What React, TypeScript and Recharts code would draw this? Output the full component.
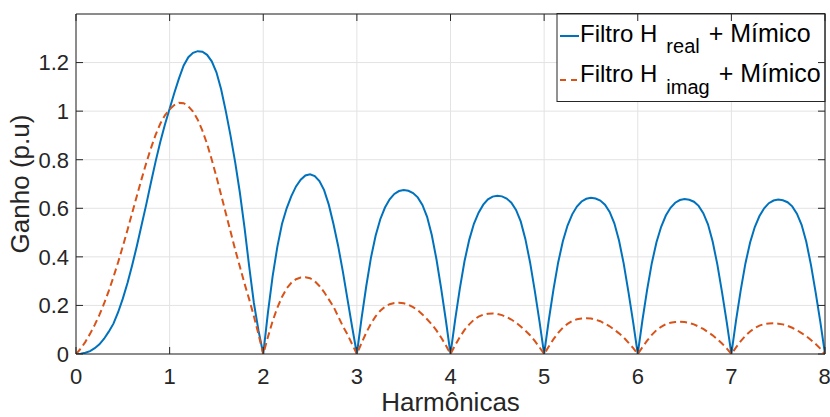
import React from 'react';
import { LineChart, Line, XAxis, YAxis, CartesianGrid, Customized } from 'recharts';

const harmonicas = [
  0, 0.05, 0.1, 0.15, 0.2, 0.25, 0.3, 0.35, 0.4, 0.45, 0.5, 0.55, 0.6, 0.65, 0.7, 0.75, 0.8, 0.85, 0.9, 0.95,
  1, 1.05, 1.1, 1.15, 1.2, 1.25, 1.3, 1.35, 1.4, 1.45, 1.5, 1.55, 1.6, 1.65, 1.7, 1.75, 1.8, 1.85, 1.9, 1.95,
  2, 2.05, 2.1, 2.15, 2.2, 2.25, 2.3, 2.35, 2.4, 2.45, 2.5, 2.55, 2.6, 2.65, 2.7, 2.75, 2.8, 2.85, 2.9, 2.95,
  3, 3.05, 3.1, 3.15, 3.2, 3.25, 3.3, 3.35, 3.4, 3.45, 3.5, 3.55, 3.6, 3.65, 3.7, 3.75, 3.8, 3.85, 3.9, 3.95,
  4, 4.05, 4.1, 4.15, 4.2, 4.25, 4.3, 4.35, 4.4, 4.45, 4.5, 4.55, 4.6, 4.65, 4.7, 4.75, 4.8, 4.85, 4.9, 4.95,
  5, 5.05, 5.1, 5.15, 5.2, 5.25, 5.3, 5.35, 5.4, 5.45, 5.5, 5.55, 5.6, 5.65, 5.7, 5.75, 5.8, 5.85, 5.9, 5.95,
  6, 6.05, 6.1, 6.15, 6.2, 6.25, 6.3, 6.35, 6.4, 6.45, 6.5, 6.55, 6.6, 6.65, 6.7, 6.75, 6.8, 6.85, 6.9, 6.95,
  7, 7.05, 7.1, 7.15, 7.2, 7.25, 7.3, 7.35, 7.4, 7.45, 7.5, 7.55, 7.6, 7.65, 7.7, 7.75, 7.8, 7.85, 7.9, 7.95,
  8,
];

// Filtro H_real + Mímico
const ganhoReal = [
  0, 0.001, 0.005, 0.012, 0.024, 0.04, 0.063, 0.092, 0.125, 0.172, 0.228, 0.292, 0.365, 0.445, 0.53, 0.615, 0.705, 0.792, 0.873, 0.945,
  1.01, 1.075, 1.135, 1.188, 1.222, 1.24, 1.247, 1.245, 1.232, 1.205, 1.16, 1.09, 1.0, 0.9, 0.79, 0.665, 0.52, 0.36, 0.21, 0.095,
  0, 0.17, 0.32, 0.44, 0.535, 0.6, 0.65, 0.69, 0.718, 0.735, 0.74, 0.733, 0.712, 0.675, 0.615, 0.535, 0.445, 0.34, 0.225, 0.11,
  0, 0.147, 0.279, 0.396, 0.487, 0.555, 0.603, 0.637, 0.659, 0.671, 0.675, 0.672, 0.663, 0.645, 0.614, 0.565, 0.49, 0.39, 0.27, 0.14,
  0, 0.142, 0.27, 0.383, 0.47, 0.536, 0.582, 0.615, 0.637, 0.648, 0.652, 0.649, 0.64, 0.623, 0.593, 0.546, 0.473, 0.377, 0.261, 0.135,
  0, 0.14, 0.266, 0.377, 0.464, 0.529, 0.575, 0.607, 0.628, 0.639, 0.643, 0.64, 0.632, 0.615, 0.585, 0.538, 0.467, 0.372, 0.257, 0.133,
  0, 0.139, 0.264, 0.374, 0.46, 0.524, 0.57, 0.602, 0.623, 0.634, 0.638, 0.635, 0.627, 0.61, 0.58, 0.534, 0.463, 0.369, 0.255, 0.132,
  0, 0.138, 0.263, 0.373, 0.459, 0.523, 0.568, 0.6, 0.621, 0.632, 0.636, 0.633, 0.625, 0.608, 0.578, 0.532, 0.462, 0.367, 0.254, 0.132,
  0,
];

// Filtro H_imag + Mímico
const ganhoImag = [
  0, 0.022, 0.05, 0.083, 0.12, 0.161, 0.208, 0.26, 0.317, 0.378, 0.443, 0.511, 0.581, 0.651, 0.72, 0.786, 0.847, 0.902, 0.948, 0.983,
  1.008, 1.025, 1.034, 1.033, 1.02, 0.998, 0.965, 0.92, 0.865, 0.8, 0.73, 0.655, 0.58, 0.505, 0.43, 0.36, 0.29, 0.225, 0.155, 0.08,
  0, 0.07, 0.135, 0.19, 0.235, 0.27, 0.293, 0.308, 0.315, 0.316, 0.312, 0.3, 0.28, 0.255, 0.225, 0.195, 0.155, 0.115, 0.08, 0.04,
  0, 0.045, 0.088, 0.125, 0.155, 0.178, 0.195, 0.205, 0.21, 0.211, 0.209, 0.203, 0.193, 0.18, 0.163, 0.143, 0.122, 0.097, 0.068, 0.036,
  0, 0.036, 0.07, 0.099, 0.122, 0.141, 0.154, 0.162, 0.166, 0.167, 0.165, 0.16, 0.152, 0.142, 0.129, 0.113, 0.096, 0.077, 0.054, 0.028,
  0, 0.031, 0.061, 0.087, 0.108, 0.124, 0.136, 0.143, 0.146, 0.147, 0.146, 0.141, 0.135, 0.125, 0.114, 0.1, 0.085, 0.068, 0.047, 0.025,
  0, 0.028, 0.055, 0.079, 0.098, 0.112, 0.123, 0.129, 0.132, 0.133, 0.132, 0.128, 0.122, 0.113, 0.103, 0.09, 0.077, 0.061, 0.043, 0.023,
  0, 0.027, 0.053, 0.075, 0.093, 0.107, 0.117, 0.123, 0.126, 0.127, 0.125, 0.122, 0.116, 0.108, 0.098, 0.086, 0.073, 0.058, 0.041, 0.022,
  0,
];

const xTicks = [0, 1, 2, 3, 4, 5, 6, 7, 8];
const yTicks = [0, 0.2, 0.4, 0.6, 0.8, 1, 1.2];

const data = harmonicas.map((h, i) => ({ h, real: ganhoReal[i], imag: ganhoImag[i] }));

const FONT = '"Liberation Sans", Arial, Helvetica, sans-serif';
const AXIS = '#262626';
const BLUE = '#0072BD';
const ORANGE = '#D95319';

const NoTick = () => <g />;

const Overlay = () => (
  <g fontFamily={FONT}>
    <text x={450.5} y={411} textAnchor="middle" fontSize={26} fill={AXIS}>Harmônicas</text>
    <text x={29} y={184} textAnchor="middle" fontSize={26} fill={AXIS} transform="rotate(-90 29 184)">Ganho (p.u)</text>
    <rect x={557} y={13.5} width={268} height={88} fill="#fff" stroke={AXIS} strokeWidth={1} />
    <line x1={560} x2={579} y1={36} y2={36} stroke={BLUE} strokeWidth={2} />
    <line x1={560} x2={579} y1={80} y2={80} stroke={ORANGE} strokeWidth={2} strokeDasharray="6 5" />
    <text x={580} y={42} fontSize={24} fill="#000">
      Filtro H<tspan fontSize={20} dx={9} dy={11}>real</tspan><tspan fontSize={25} dx={2} dy={-11}>{' + Mímico'}</tspan>
    </text>
    <text x={580} y={82} fontSize={24} fill="#000">
      Filtro H<tspan fontSize={20} dx={9} dy={12}>imag</tspan><tspan fontSize={25} dx={2} dy={-12}>{' + Mímico'}</tspan>
    </text>
  </g>
);

export default function App() {
  return (
    <div style={{ position: 'absolute', left: 0, top: 0, width: 830, height: 417, background: '#fff' }}>
      <LineChart width={830} height={417} data={data} margin={{ top: 13, right: 4, bottom: 0, left: 0 }}>
        <CartesianGrid stroke="#e3e3e3" strokeWidth={1} />
        <XAxis
          xAxisId={0}
          dataKey="h"
          type="number"
          domain={[0, 8]}
          ticks={xTicks}
          height={63}
          tickSize={-7}
          tickMargin={21}
          stroke={AXIS}
          tick={{ fill: AXIS, fontSize: 22, fontFamily: FONT }}
          allowDataOverflow
        />
        <XAxis
          xAxisId="top"
          orientation="top"
          dataKey="h"
          type="number"
          domain={[0, 8]}
          ticks={xTicks}
          height={1}
          tickSize={-7}
          stroke={AXIS}
          tick={NoTick}
          allowDataOverflow
        />
        <YAxis
          yAxisId={0}
          type="number"
          domain={[0, 1.4]}
          ticks={yTicks}
          width={76}
          tickSize={-7}
          tickMargin={14}
          stroke={AXIS}
          tick={{ fill: AXIS, fontSize: 22, fontFamily: FONT }}
          allowDataOverflow
        />
        <YAxis
          yAxisId="right"
          orientation="right"
          type="number"
          domain={[0, 1.4]}
          ticks={yTicks}
          width={1}
          tickSize={-7}
          stroke={AXIS}
          tick={NoTick}
          allowDataOverflow
        />
        <Line
          type="linear"
          dataKey="real"
          stroke={BLUE}
          strokeWidth={2}
          dot={false}
          isAnimationActive={false}
        />
        <Line
          type="linear"
          dataKey="imag"
          stroke={ORANGE}
          strokeWidth={2}
          strokeDasharray="7 4"
          dot={false}
          isAnimationActive={false}
        />
        <Customized component={Overlay} />
      </LineChart>
    </div>
  );
}
